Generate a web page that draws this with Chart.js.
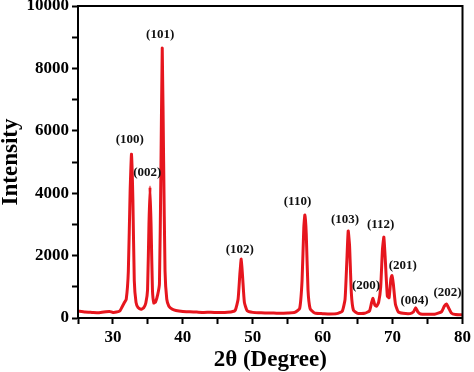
<!DOCTYPE html>
<html>
<head>
<meta charset="utf-8">
<script src="https://cdn.jsdelivr.net/npm/chart.js@4.4.0/dist/chart.umd.min.js"></script>
<style>
html,body{margin:0;padding:0;background:#fff;}
#wrap{width:474px;height:372px;}
</style>
</head>
<body>
<div id="wrap"><canvas id="c" width="474" height="372"></canvas></div>
<script>
const twoTheta = [25,26,27,28,29,29.5,30,30.5,31,31.3,31.6,31.9,32.2,32.45,32.65,32.85,33.05,33.3,33.6,34,34.4,34.7,34.95,35.15,35.3,35.45,35.65,35.85,36.1,36.4,36.65,36.85,37.05,37.25,37.45,37.7,38,38.5,39,40,41,42,43,44,45,46,47,47.5,47.9,48.15,48.35,48.55,48.8,49.2,50,51,52,53,54,55,56,56.7,57.05,57.3,57.45,57.65,57.9,58.2,58.7,59,60,61,62,62.8,63.2,63.45,63.65,63.85,64.1,64.4,65,66,66.7,67.0,67.2,67.45,67.7,68.0,68.3,68.55,68.75,68.95,69.25,69.5,69.75,69.9,70.1,70.4,70.8,71.5,72.5,73.0,73.3,73.6,74,75,76,77,77.4,77.7,78,78.4,79,80];
const intensity = [220,190,180,170,200,210,180,190,230,350,480,600,1500,4000,5250,3800,1200,500,330,280,330,480,900,3000,4200,3000,900,480,520,750,1100,4500,8650,5000,1500,600,380,280,240,210,200,190,180,185,175,180,200,250,600,1400,1890,1300,500,230,180,170,160,160,150,160,180,300,1200,2900,3300,2700,900,300,180,150,140,130,140,220,600,1800,2790,2300,800,250,150,150,230,500,630,420,380,500,1000,2200,2590,1900,700,650,1250,1360,1100,450,200,150,140,200,330,200,130,120,120,200,380,450,330,160,110,100];

// peak (hkl) labels and their positions in data units
const peakLabels = ["(100)","(002)","(101)","(102)","(110)","(103)","(200)","(112)","(201)","(004)","(202)"];
const labelX = [32.4,34.9,36.75,48.15,56.4,63.2,66.2,68.3,71.45,73.15,77.85];
const labelY = [5705,4647,9070,2180,3730,3140,1025,2980,1670,555,800];

// axis ticks
const xMin = 25, xMax = 80, xStep = 5, xLabelEvery = 10;
const yMin = 0, yMax = 10000, yStep = 1000, yLabelEvery = 2000;

const points = twoTheta.map((t,i)=>({x:t,y:intensity[i]}));

const serif = "'Liberation Serif','Times New Roman',serif";

const framePlugin = {
  id:'frame',
  afterDraw(chart){
    const {ctx, chartArea:a} = chart;
    ctx.save();
    ctx.strokeStyle='#000';
    ctx.lineWidth=2;
    ctx.strokeRect(a.left, a.top, a.right-a.left, a.bottom-a.top);
    ctx.restore();
  }
};

const labelPlugin = {
  id:'peakLabels',
  afterDatasetsDraw(chart){
    const {ctx, scales} = chart;
    ctx.save();
    ctx.font = "bold 13px " + serif;
    ctx.fillStyle = '#111';
    ctx.textAlign='center';
    ctx.textBaseline='middle';
    peakLabels.forEach((t,i)=>{
      ctx.fillText(t, scales.x.getPixelForValue(labelX[i]), scales.y.getPixelForValue(labelY[i]));
    });
    ctx.restore();
  }
};

new Chart(document.getElementById('c'), {
  type:'line',
  data:{datasets:[{
    data:points,
    borderColor:'rgb(230,22,30)',
    borderWidth:3,
    pointRadius:0,
    tension:0.15,
    fill:false
  }]},
  options:{
    responsive:false,
    animation:false,
    devicePixelRatio:1,
    layout:{padding:{top:6,right:9,left:0,bottom:0}},
    plugins:{legend:{display:false},tooltip:{enabled:false}},
    scales:{
      x:{
        type:'linear', min:xMin, max:xMax,
        afterFit(s){ s.height = 54; },
        ticks:{stepSize:xStep, color:'#000', padding:3,
          font:{family:serif, size:17, weight:'bold'},
          callback:v => (v % xLabelEvery === 0) ? v : ''},
        grid:{drawOnChartArea:false, tickLength:6, tickWidth:2, tickColor:'#000'},
        border:{color:'#000', width:2},
        title:{display:true, text:'2θ (Degree)', color:'#000',
          font:{family:serif, size:23, weight:'bold', lineHeight:1}, padding:{top:0,bottom:0}}
      },
      y:{
        type:'linear', min:yMin, max:yMax,
        afterFit(s){ s.width = 78; s.paddingTop = 0; s.paddingBottom = 0; },
        ticks:{stepSize:yStep, color:'#000', padding:3,
          font:{family:serif, size:17, weight:'bold'},
          callback:v => (v % yLabelEvery === 0) ? v : ''},
        grid:{drawOnChartArea:false, tickLength:6, tickWidth:2, tickColor:'#000'},
        border:{color:'#000', width:2},
        title:{display:true, text:'Intensity', color:'#000',
          font:{family:serif, size:23, weight:'bold', lineHeight:1}, padding:{top:0,bottom:0}}
      }
    }
  },
  plugins:[framePlugin, labelPlugin]
});
</script>
</body>
</html>
